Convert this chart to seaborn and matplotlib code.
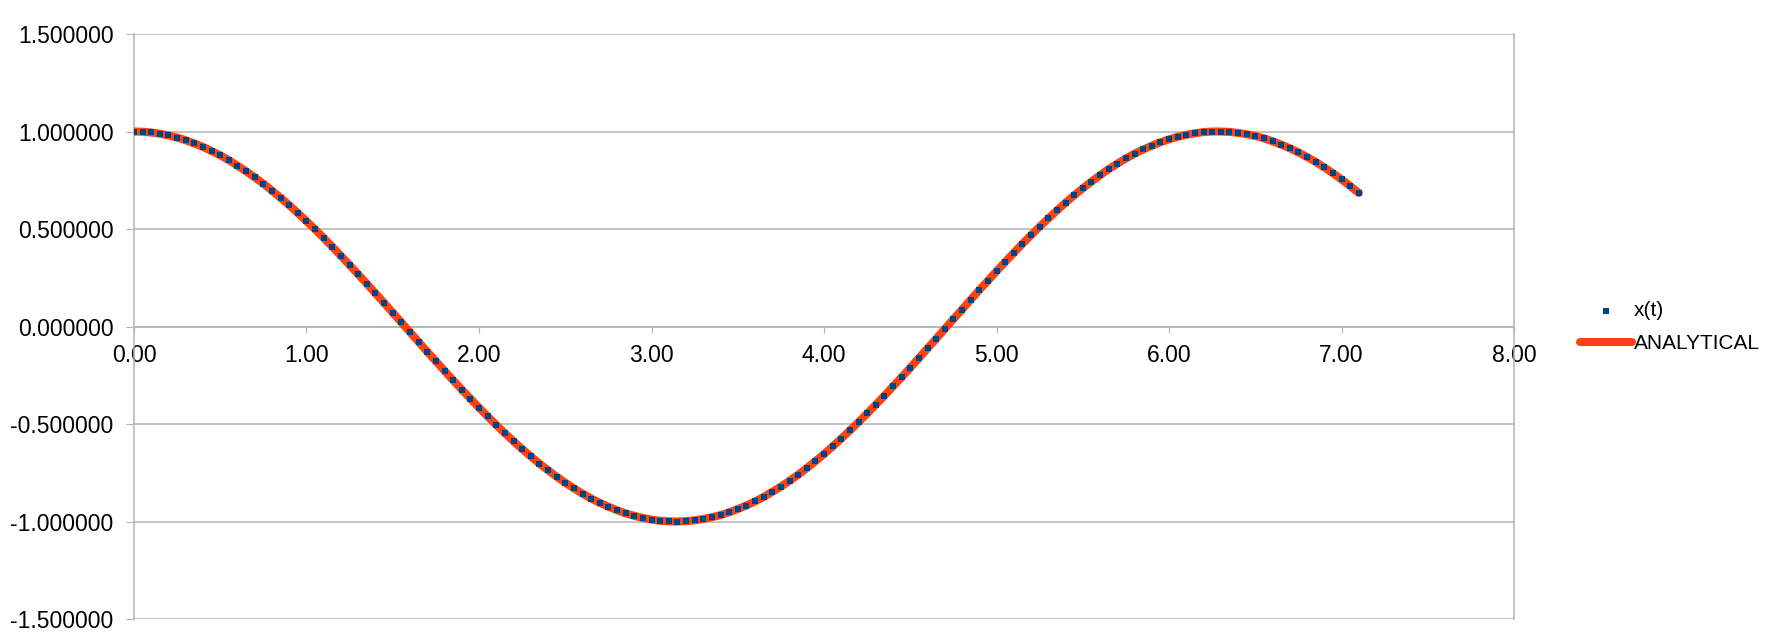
import pandas as pd
import matplotlib.pyplot as plt
import numpy as np
import seaborn as sns

# time values (step 0.05)
t_values = [0.00, 0.05, 0.10, 0.15, 0.20, 0.25, 0.30, 0.35, 0.40, 0.45,
            0.50, 0.55, 0.60, 0.65, 0.70, 0.75, 0.80, 0.85, 0.90, 0.95,
            1.00, 1.05, 1.10, 1.15, 1.20, 1.25, 1.30, 1.35, 1.40, 1.45,
            1.50, 1.55, 1.60, 1.65, 1.70, 1.75, 1.80, 1.85, 1.90, 1.95,
            2.00, 2.05, 2.10, 2.15, 2.20, 2.25, 2.30, 2.35, 2.40, 2.45,
            2.50, 2.55, 2.60, 2.65, 2.70, 2.75, 2.80, 2.85, 2.90, 2.95,
            3.00, 3.05, 3.10, 3.15, 3.20, 3.25, 3.30, 3.35, 3.40, 3.45,
            3.50, 3.55, 3.60, 3.65, 3.70, 3.75, 3.80, 3.85, 3.90, 3.95,
            4.00, 4.05, 4.10, 4.15, 4.20, 4.25, 4.30, 4.35, 4.40, 4.45,
            4.50, 4.55, 4.60, 4.65, 4.70, 4.75, 4.80, 4.85, 4.90, 4.95,
            5.00, 5.05, 5.10, 5.15, 5.20, 5.25, 5.30, 5.35, 5.40, 5.45,
            5.50, 5.55, 5.60, 5.65, 5.70, 5.75, 5.80, 5.85, 5.90, 5.95,
            6.00, 6.05, 6.10, 6.15, 6.20, 6.25, 6.30, 6.35, 6.40, 6.45,
            6.50, 6.55, 6.60, 6.65, 6.70, 6.75, 6.80, 6.85, 6.90, 6.95,
            7.00, 7.05, 7.10]

# numerical x(t)
x_values = [1.000, 0.999, 0.995, 0.989, 0.980, 0.969, 0.955, 0.939, 0.921, 0.900,
            0.878, 0.853, 0.825, 0.796, 0.765, 0.732, 0.697, 0.660, 0.622, 0.582,
            0.540, 0.498, 0.454, 0.409, 0.362, 0.315, 0.267, 0.219, 0.170, 0.121,
            0.071, 0.021, -0.029, -0.079, -0.129, -0.178, -0.227, -0.276, -0.323, -0.370,
            -0.416, -0.461, -0.505, -0.547, -0.589, -0.628, -0.666, -0.703, -0.737, -0.770,
            -0.801, -0.830, -0.857, -0.882, -0.904, -0.924, -0.942, -0.958, -0.971, -0.982,
            -0.990, -0.996, -0.999, -1.000, -0.998, -0.994, -0.987, -0.978, -0.967, -0.953,
            -0.936, -0.918, -0.897, -0.874, -0.848, -0.821, -0.791, -0.760, -0.726, -0.691,
            -0.654, -0.615, -0.575, -0.533, -0.490, -0.446, -0.401, -0.355, -0.307, -0.260,
            -0.211, -0.162, -0.112, -0.063, -0.012, 0.038, 0.087, 0.137, 0.187, 0.235,
            0.284, 0.331, 0.378, 0.424, 0.469, 0.512, 0.554, 0.595, 0.635, 0.673,
            0.709, 0.743, 0.776, 0.807, 0.835, 0.862, 0.886, 0.908, 0.927, 0.945,
            0.960, 0.973, 0.983, 0.991, 0.997, 1.000, 1.000, 0.998, 0.993, 0.986,
            0.977, 0.965, 0.950, 0.933, 0.914, 0.893, 0.869, 0.844, 0.816, 0.786,
            0.754, 0.720, 0.685]

# analytical solution, same sample points
analytical_values = list(x_values)

df = pd.DataFrame({'t': t_values, 'x': x_values, 'analytical': analytical_values})

sns.set_style("white")
plt.rcParams['font.family'] = ['Liberation Sans', 'DejaVu Sans']
plt.rcParams['text.color'] = 'black'
plt.rcParams['xtick.labelcolor'] = 'black'
plt.rcParams['ytick.labelcolor'] = 'black'

fig = plt.figure(figsize=(17.84, 6.43), dpi=100)
ax = fig.add_axes([0.0751, 0.0373, 0.7736, 0.9098])

grid_color = '#b3b3b3'

#Analytical line underneath, numerical points on top
sns.lineplot(data=df, x='t', y='analytical', ax=ax, color='#ff420e',
             linewidth=5.8, label='ANALYTICAL', zorder=3, solid_capstyle='round')
sns.scatterplot(data=df, x='t', y='x', ax=ax, color='#004586', marker='s',
                s=16, linewidth=0, label='x(t)', zorder=4)

ax.set_xlim(0, 8)
ax.set_ylim(-1.5, 1.5)
ax.set_xticks(np.arange(0, 9, 1))
ax.set_yticks(np.arange(-1.5, 1.51, 0.5))
ax.xaxis.set_major_formatter(plt.FormatStrFormatter('%.2f'))
ax.yaxis.set_major_formatter(plt.FormatStrFormatter('%.6f'))
ax.set_xlabel('')
ax.set_ylabel('')

#horizontal gridlines only
ax.yaxis.grid(True, color=grid_color, linewidth=1.1)
ax.xaxis.grid(False)
ax.set_axisbelow(True)

#x axis crosses at zero
ax.spines['bottom'].set_position(('data', 0))
for side in ['left', 'right', 'bottom']:
    ax.spines[side].set_color(grid_color)
    ax.spines[side].set_linewidth(1.1)
ax.spines['top'].set_visible(False)

ax.tick_params(axis='y', direction='out', length=5.8, color=grid_color,
               labelsize=16.5, labelcolor='black', pad=9, left=True)
ax.tick_params(axis='x', direction='out', length=4.3, color=grid_color,
               labelsize=16.5, labelcolor='black', pad=8.5, bottom=True)

handles, labels = ax.get_legend_handles_labels()
order = [labels.index('x(t)'), labels.index('ANALYTICAL')]
leg = ax.legend([handles[i] for i in order], [labels[i] for i in order],
                loc='center left', bbox_to_anchor=(0.8857, 0.4914), bbox_transform=fig.transFigure,
                frameon=False, fontsize=15, handlelength=2.5, handletextpad=0.1,
                labelspacing=0.65, borderpad=0, borderaxespad=0, markerscale=1.0)
for txt in leg.get_texts():
    txt.set_color('black')

fig.savefig('out.png', dpi=100)
